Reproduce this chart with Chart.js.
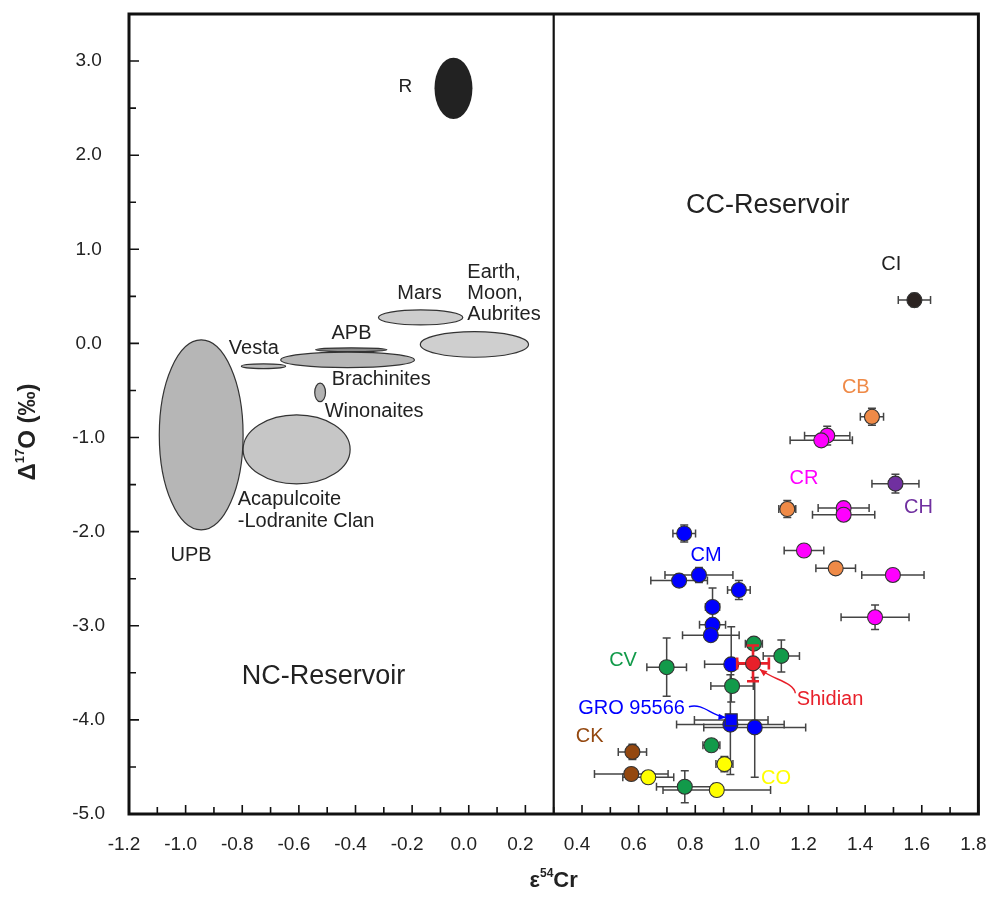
<!DOCTYPE html>
<html lang="en">
<head>
<meta charset="UTF-8">
<title>Cr-O isotope reservoirs</title>
<script src="https://cdn.jsdelivr.net/npm/chart.js@4"></script>
<style>
  html, body { margin: 0; padding: 0; background: #fff; }
  canvas { display: block; }
</style>
</head>
<body>
<canvas id="chart" width="988" height="899"></canvas>
<script>
// ---- axis ticks ----
const xTickValues = [-1.2, -1.0, -0.8, -0.6, -0.4, -0.2, 0.0, 0.2, 0.4, 0.6, 0.8, 1.0, 1.2, 1.4, 1.6, 1.8];
const yTickValues = [-5, -4, -3, -2, -1, 0, 1, 2, 3];
const reservoirBoundary = 0.3;

// ---- meteorite groups (e54Cr, D17O, 2 s.d.) ----
const ciX = [1.574], ciY = [0.46], ciXErr = [0.057], ciYErr = [0.07];
const cbX = [1.424, 1.125, 1.296], cbY = [-0.78, -1.76, -2.39];
const cbXErr = [0.041, 0.03, 0.07], cbYErr = [0.09, 0.09, 0.05];
const crX = [1.266, 1.245, 1.324, 1.324, 1.184, 1.498, 1.435];
const crY = [-0.98, -1.03, -1.75, -1.82, -2.20, -2.46, -2.91];
const crXErr = [0.08, 0.11, 0.09, 0.11, 0.07, 0.11, 0.12];
const crYErr = [0.10, 0.05, 0.05, 0.05, 0.05, 0.05, 0.13];
const chX = [1.507], chY = [-1.49], chXErr = [0.083], chYErr = [0.10];
const cmX = [0.761, 0.743, 0.813, 0.954, 0.861, 0.861, 0.855, 0.927, 0.924, 1.010];
const cmY = [-2.02, -2.52, -2.46, -2.62, -2.80, -2.99, -3.10, -3.41, -4.05, -4.08];
const cmXErr = [0.04, 0.10, 0.12, 0.04, 0.025, 0.046, 0.10, 0.094, 0.19, 0.18];
const cmYErr = [0.09, 0.05, 0.08, 0.10, 0.20, 0.05, 0.05, 0.40, 0.53, 0.53];
const groX = [0.927], groY = [-4.0], groXErr = [0.13], groYErr = [0.05];
const cvX = [1.007, 1.104, 0.699, 0.930, 0.857, 0.763];
const cvY = [-3.19, -3.32, -3.44, -3.64, -4.27, -4.71];
const cvXErr = [0.03, 0.064, 0.07, 0.075, 0.03, 0.10];
const cvYErr = [0.05, 0.17, 0.31, 0.05, 0.05, 0.17];
const ckX = [0.578, 0.574], ckY = [-4.34, -4.575], ckXErr = [0.05, 0.13], ckYErr = [0.08, 0.05];
const coX = [0.634, 0.903, 0.876], coY = [-4.61, -4.47, -4.745];
const coXErr = [0.09, 0.03, 0.19], coYErr = [0.05, 0.08, 0.05];
const shX = [1.004], shY = [-3.40], shXErr = [0.056], shYErr = [0.19];

// ---- achondrite / planet fields (centre and half axes) ----
const fieldNames = ['R', 'UPB', 'Acapulcoite', 'Winonaites', 'Vesta', 'Brachinites', 'APB', 'Mars', 'Earth'];
const fieldCx = [-0.054, -0.945, -0.608, -0.525, -0.725, -0.428, -0.415, -0.170, 0.020];
const fieldCy = [2.71, -0.972, -1.126, -0.521, -0.242, -0.175, -0.067, 0.276, -0.011];
const fieldRx = [0.067, 0.148, 0.189, 0.019, 0.078, 0.236, 0.126, 0.149, 0.191];
const fieldRy = [0.326, 1.01, 0.367, 0.098, 0.025, 0.082, 0.02, 0.08, 0.136];
const fieldFill = ['#222222', '#b6b6b6', '#c6c6c6', '#b2b2b2', '#bababa', '#b6b6b6', '#8a8a8a', '#cdcdcd', '#cfcfcf'];

const FONT = "'Liberation Sans', Arial, sans-serif";

const zip = (xs, ys) => xs.map((x, i) => ({ x: x, y: ys[i] }));

function group(label, xs, ys, xe, ye, color, style) {
  return {
    label: label,
    data: zip(xs, ys),
    xErr: xe, yErr: ye,
    backgroundColor: color,
    borderColor: '#333',
    borderWidth: 1.1,
    pointRadius: style === 'rect' ? 8.5 : 7.5,
    pointStyle: style || 'circle'
  };
}

// dataset 0 is drawn last (on top)
const datasets = [
  Object.assign(group('Shidian', shX, shY, shXErr, shYErr, '#e8202a'), { barColor: '#e8202a', barWidth: 2.6, cap: 6 }),
  group('GRO 95566', groX, groY, groXErr, groYErr, '#0000ff', 'rect'),
  group('CI', ciX, ciY, ciXErr, ciYErr, '#2b2321'),
  group('CB', cbX, cbY, cbXErr, cbYErr, '#ef8a47'),
  group('CR', crX, crY, crXErr, crYErr, '#ff00ff'),
  group('CH', chX, chY, chXErr, chYErr, '#7030a0'),
  group('CM', cmX, cmY, cmXErr, cmYErr, '#0000ff'),
  group('CV', cvX, cvY, cvXErr, cvYErr, '#129a4a'),
  group('CK', ckX, ckY, ckXErr, ckYErr, '#944810'),
  group('CO', coX, coY, coXErr, coYErr, '#ffff00')
];

// text annotations, anchored in data units
const notes = [
  { t: 'R', x: -0.224, y: 2.726, c: '#222', a: 'center', s: 19 },
  { t: 'Vesta', x: -0.759, y: -0.056, c: '#222', a: 'center', s: 20 },
  { t: 'APB', x: -0.414, y: 0.101, c: '#222', a: 'center', s: 20 },
  { t: 'Mars', x: -0.174, y: 0.526, c: '#222', a: 'center', s: 20 },
  { t: 'Earth,', x: -0.005, y: 0.749, c: '#222', a: 'left', s: 20 },
  { t: 'Moon,', x: -0.005, y: 0.526, c: '#222', a: 'left', s: 20 },
  { t: 'Aubrites', x: -0.005, y: 0.303, c: '#222', a: 'left', s: 20 },
  { t: 'Brachinites', x: -0.484, y: -0.388, c: '#222', a: 'left', s: 20 },
  { t: 'Winonaites', x: -0.509, y: -0.725, c: '#222', a: 'left', s: 20 },
  { t: 'Acapulcoite', x: -0.816, y: -1.663, c: '#222', a: 'left', s: 20 },
  { t: '-Lodranite Clan', x: -0.816, y: -1.897, c: '#222', a: 'left', s: 20 },
  { t: 'UPB', x: -0.981, y: -2.248, c: '#222', a: 'center', s: 20 },
  { t: 'NC-Reservoir', x: -0.513, y: -3.544, c: '#222', a: 'center', s: 27 },
  { t: 'CC-Reservoir', x: 1.056, y: 1.47, c: '#222', a: 'center', s: 27 },
  { t: 'CI', x: 1.492, y: 0.834, c: '#222', a: 'center', s: 20 },
  { t: 'CB', x: 1.367, y: -0.470, c: '#ef8a47', a: 'center', s: 20 },
  { t: 'CR', x: 1.184, y: -1.433, c: '#ff00ff', a: 'center', s: 20 },
  { t: 'CH', x: 1.588, y: -1.741, c: '#7030a0', a: 'center', s: 20 },
  { t: 'CM', x: 0.838, y: -2.248, c: '#0000ff', a: 'center', s: 20 },
  { t: 'CV', x: 0.545, y: -3.371, c: '#129a4a', a: 'center', s: 20 },
  { t: 'GRO 95566', x: 0.575, y: -3.877, c: '#0000ff', a: 'center', s: 20 },
  { t: 'CK', x: 0.427, y: -4.179, c: '#944810', a: 'center', s: 20 },
  { t: 'CO', x: 1.085, y: -4.621, c: '#ffff00', a: 'center', s: 20 },
  { t: 'Shidian', x: 1.158, y: -3.778, c: '#e8202a', a: 'left', s: 20 }
];

// curved pointer arrows (bezier in data units)
const arrows = [
  { c: '#e8202a', p: [[1.1535, -3.717], [1.1475, -3.597], [1.077, -3.576], [1.0277, -3.462]] },
  { c: '#0000ff', p: [[0.7775, -3.860], [0.8304, -3.820], [0.8551, -3.959], [0.908, -3.975]] }
];

function drawBars(ctx, ds, xs, ys) {
  const cap = ds.cap || 4;
  ctx.save();
  ctx.strokeStyle = ds.barColor || '#444';
  ctx.lineWidth = ds.barWidth || 1.5;
  ds.data.forEach((p, i) => {
    const px = xs.getPixelForValue(p.x), py = ys.getPixelForValue(p.y);
    const x0 = xs.getPixelForValue(p.x - ds.xErr[i]), x1 = xs.getPixelForValue(p.x + ds.xErr[i]);
    const y0 = ys.getPixelForValue(p.y - ds.yErr[i]), y1 = ys.getPixelForValue(p.y + ds.yErr[i]);
    ctx.beginPath();
    ctx.moveTo(x0, py); ctx.lineTo(x1, py);
    ctx.moveTo(x0, py - cap); ctx.lineTo(x0, py + cap);
    ctx.moveTo(x1, py - cap); ctx.lineTo(x1, py + cap);
    ctx.moveTo(px, y0); ctx.lineTo(px, y1);
    ctx.moveTo(px - cap, y0); ctx.lineTo(px + cap, y0);
    ctx.moveTo(px - cap, y1); ctx.lineTo(px + cap, y1);
    ctx.stroke();
  });
  ctx.restore();
}

function richText(ctx, parts, size, x, y) {
  ctx.save();
  ctx.textBaseline = 'alphabetic';
  ctx.textAlign = 'left';
  let w = 0;
  parts.forEach(p => {
    ctx.font = 'bold ' + (p.sup ? Math.round(size * 0.55) : size) + 'px ' + FONT;
    w += ctx.measureText(p.t).width;
  });
  let cx = x - w / 2;
  parts.forEach(p => {
    ctx.font = 'bold ' + (p.sup ? Math.round(size * 0.55) : size) + 'px ' + FONT;
    ctx.fillText(p.t, cx, p.sup ? y - size * 0.45 : y);
    cx += ctx.measureText(p.t).width;
  });
  ctx.restore();
}

const decor = {
  id: 'decor',
  beforeDatasetsDraw(chart) {
    const { ctx, scales: { x, y } } = chart;
    ctx.save();
    // fields
    fieldNames.forEach((n, i) => {
      const cx = x.getPixelForValue(fieldCx[i]), cy = y.getPixelForValue(fieldCy[i]);
      const rx = Math.abs(x.getPixelForValue(fieldCx[i] + fieldRx[i]) - cx);
      const ry = Math.abs(y.getPixelForValue(fieldCy[i] + fieldRy[i]) - cy);
      ctx.beginPath();
      ctx.ellipse(cx, cy, rx, ry, 0, 0, Math.PI * 2);
      ctx.fillStyle = fieldFill[i];
      ctx.fill();
      if (n !== 'R') { ctx.strokeStyle = '#333'; ctx.lineWidth = 1.2; ctx.stroke(); }
    });
    // divider
    const bx = x.getPixelForValue(reservoirBoundary);
    ctx.beginPath();
    ctx.moveTo(bx, chart.chartArea.top); ctx.lineTo(bx, chart.chartArea.bottom);
    ctx.strokeStyle = '#111'; ctx.lineWidth = 2.2; ctx.stroke();
    ctx.restore();
    // error bars for all but Shidian
    chart.data.datasets.forEach((ds, i) => { if (i > 0) drawBars(ctx, ds, x, y); });
  },
  beforeDatasetDraw(chart, args) {
    if (args.index === 0) drawBars(chart.ctx, chart.data.datasets[0], chart.scales.x, chart.scales.y);
  },
  afterDraw(chart) {
    const { ctx, chartArea: a, scales: { x, y } } = chart;
    ctx.save();
    // frame
    ctx.strokeStyle = '#111';
    ctx.lineWidth = 3;
    ctx.strokeRect(a.left, a.top, a.right - a.left, a.bottom - a.top);
    // inward ticks
    ctx.lineWidth = 1.6;
    ctx.beginPath();
    xTickValues.forEach((v, i) => {
      const px = x.getPixelForValue(v);
      ctx.moveTo(px, a.bottom); ctx.lineTo(px, a.bottom - 9);
      if (i < xTickValues.length - 1) {
        const mx = x.getPixelForValue((v + xTickValues[i + 1]) / 2);
        ctx.moveTo(mx, a.bottom); ctx.lineTo(mx, a.bottom - 7);
      }
    });
    const yMinor = yTickValues.map(v => v + 0.5);
    yTickValues.forEach(v => {
      const py = y.getPixelForValue(v);
      ctx.moveTo(a.left, py); ctx.lineTo(a.left + 10, py);
    });
    yMinor.forEach(v => {
      const py = y.getPixelForValue(v);
      ctx.moveTo(a.left, py); ctx.lineTo(a.left + 7, py);
    });
    ctx.stroke();

    // arrows
    arrows.forEach(ar => {
      const pts = ar.p.map(q => [x.getPixelForValue(q[0]), y.getPixelForValue(q[1])]);
      ctx.strokeStyle = ar.c; ctx.fillStyle = ar.c; ctx.lineWidth = 1.4;
      ctx.beginPath();
      ctx.moveTo(pts[0][0], pts[0][1]);
      ctx.bezierCurveTo(pts[1][0], pts[1][1], pts[2][0], pts[2][1], pts[3][0], pts[3][1]);
      ctx.stroke();
      const ang = Math.atan2(pts[3][1] - pts[2][1], pts[3][0] - pts[2][0]);
      const e = pts[3];
      ctx.beginPath();
      ctx.moveTo(e[0], e[1]);
      ctx.lineTo(e[0] - 8 * Math.cos(ang - 0.4), e[1] - 8 * Math.sin(ang - 0.4));
      ctx.lineTo(e[0] - 8 * Math.cos(ang + 0.4), e[1] - 8 * Math.sin(ang + 0.4));
      ctx.closePath();
      ctx.fill();
    });

    // labels
    ctx.textBaseline = 'middle';
    notes.forEach(n => {
      ctx.font = n.s + 'px ' + FONT;
      ctx.fillStyle = n.c;
      ctx.textAlign = n.a;
      ctx.fillText(n.t, x.getPixelForValue(n.x), y.getPixelForValue(n.y));
    });

    // axis titles
    ctx.fillStyle = '#222';
    richText(ctx, [{ t: 'ε' }, { t: '54', sup: true }, { t: 'Cr' }], 22, (a.left + a.right) / 2, 887);
    ctx.save();
    ctx.translate(35, 432);
    ctx.rotate(-Math.PI / 2);
    richText(ctx, [{ t: 'Δ' }, { t: '17', sup: true }, { t: 'O (‰)' }], 24, 0, 0);
    ctx.restore();
    ctx.restore();
  }
};

const fmt = v => (Math.abs(v) < 1e-9 ? 0 : Number(v)).toFixed(1);

new Chart(document.getElementById('chart'), {
  type: 'scatter',
  data: { datasets: datasets },
  options: {
    responsive: false,
    animation: false,
    layout: { padding: { top: 14, right: 8, left: 0, bottom: 0 } },
    plugins: { legend: { display: false }, tooltip: { enabled: false } },
    scales: {
      x: {
        type: 'linear', min: -1.2, max: 1.8,
        grid: { display: false }, border: { display: false },
        afterBuildTicks: s => { s.ticks = xTickValues.map(v => ({ value: v })); },
        afterFit: s => { s.height = 85; s.paddingLeft = 0; s.paddingRight = 0; },
        ticks: { callback: fmt, autoSkip: false, maxRotation: 0, padding: 11, labelOffset: -5, color: '#222', font: { family: FONT, size: 19 } }
      },
      y: {
        type: 'linear', min: -5, max: 3.5,
        grid: { display: false }, border: { display: false },
        afterBuildTicks: s => { s.ticks = yTickValues.map(v => ({ value: v })); },
        afterFit: s => { s.width = 129; s.paddingTop = 0; s.paddingBottom = 0; },
        ticks: { callback: fmt, crossAlign: 'center', padding: 16, color: '#222', font: { family: FONT, size: 19 } }
      }
    }
  },
  plugins: [decor]
});
</script>
</body>
</html>
